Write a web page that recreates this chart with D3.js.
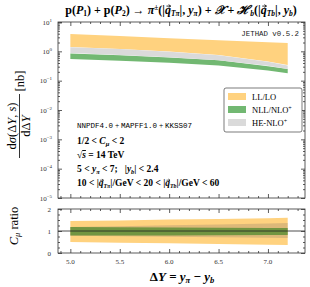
<!DOCTYPE html>
<html lang="en">
<head>
<meta charset="UTF-8">
<title>JETHAD pion + b-hadron</title>
<script src="https://d3js.org/d3.v7.min.js"></script>
<style>
  body { margin: 0; padding: 0; background: #fff; }
  svg { display: block; font-family: "Liberation Serif", "DejaVu Serif", serif; }
  .mono { font-family: "Liberation Mono", "DejaVu Sans Mono", monospace; }
  .axis path, .axis line { stroke: #333; stroke-width: 0.8; }
</style>
</head>
<body>
<svg width="310" height="287"></svg>
<script>
  // rapidity interval values
  const dY = [5.0, 5.5, 6.0, 6.5, 7.0, 7.2];

  // main panel, d sigma / d DeltaY in nb (band edges)
  const llLo = [1.40, 1.20, 0.98, 0.75, 0.45, 0.34];
  const llHi = [3.90, 3.30, 2.80, 2.40, 2.05, 1.92];
  const heLo = [0.87, 0.75, 0.63, 0.50, 0.32, 0.25];
  const heHi = [1.38, 1.19, 0.97, 0.74, 0.44, 0.33];
  const nllLo = [0.55, 0.48, 0.41, 0.33, 0.22, 0.18];
  const nllHi = [0.85, 0.73, 0.62, 0.50, 0.31, 0.25];

  // ratio panel (C_mu variation / central)
  const rLlLo = [0.50, 0.47, 0.44, 0.41, 0.38, 0.36];
  const rLlHi = [1.45, 1.48, 1.52, 1.55, 1.58, 1.60];
  const rHeLo = [0.78, 0.76, 0.74, 0.72, 0.69, 0.68];
  const rHeHi = [1.18, 1.22, 1.26, 1.30, 1.34, 1.36];
  const rNllLo = [0.79, 0.80, 0.80, 0.81, 0.82, 0.82];
  const rNllHi = [1.18, 1.17, 1.16, 1.15, 1.14, 1.14];

  const xTicks = [5.0, 5.5, 6.0, 6.5, 7.0];
  const yDecades = [1e-5, 1e-4, 1e-3, 1e-2, 1e-1, 1, 10];
  const ratioTicks = [0, 1, 2];

  const svg = d3.select("svg");

  const L = 58, R = 305;
  const x = d3.scaleLinear().domain([4.875, 7.375]).range([L, R]);
  const y = d3.scaleLog().domain([1e-5, 10]).range([198, 22]);
  const yr = d3.scaleLinear().domain([0, 2]).range([253, 209]);

  const band = (ys, lo, hi) => d3.area()
      .x((d, i) => x(dY[i]))
      .y0((d, i) => ys(lo[i]))
      .y1((d, i) => ys(hi[i]));

  // ---------- main panel ----------
  const main = svg.append("g");
  main.append("path").datum(dY).attr("d", band(y, llLo, llHi)).attr("fill", "#ffd27f");
  main.append("path").datum(dY).attr("d", band(y, nllLo, nllHi)).attr("fill", "#72b872");
  main.append("path").datum(dY).attr("d", band(y, heLo, heHi)).attr("fill", "#dadada");

  // ---------- ratio panel ----------
  const rat = svg.append("g");
  rat.append("path").datum(dY).attr("d", band(yr, rLlLo, rLlHi)).attr("fill", "#ffd27f");
  rat.append("path").datum(dY).attr("d", band(yr, rHeLo, rHeHi)).attr("fill", "#a89070").attr("fill-opacity", 0.4);
  rat.append("path").datum(dY).attr("d", band(yr, rNllLo, rNllHi)).attr("fill", "#4f8a2f").attr("fill-opacity", 0.75);
  rat.append("line").attr("x1", L).attr("x2", R).attr("y1", yr(1)).attr("y2", yr(1))
      .attr("stroke", "#222").attr("stroke-width", 0.8);

  // ---------- axes with inward ticks ----------
  const minorX = d3.range(4.9, 7.37, 0.1).filter(v => Math.abs(v * 2 - Math.round(v * 2)) > 1e-6);
  const minorY = [];
  yDecades.slice(0, -1).forEach(d => { for (let k = 2; k < 10; k++) minorY.push(d * k); });

  function frame(yScale, top, bottom, majorY, minorYv) {
    svg.append("rect").attr("x", L).attr("y", top).attr("width", R - L).attr("height", bottom - top)
        .attr("fill", "none").attr("stroke", "#333").attr("stroke-width", 0.8);
    const g = svg.append("g").attr("class", "axis");
    g.append("g").attr("transform", `translate(0,${bottom})`)
        .call(d3.axisBottom(x).tickValues(xTicks).tickSize(-4).tickFormat(""));
    g.append("g").attr("transform", `translate(0,${bottom})`)
        .call(d3.axisBottom(x).tickValues(minorX).tickSize(-2).tickFormat(""));
    g.append("g").attr("transform", `translate(0,${top})`)
        .call(d3.axisTop(x).tickValues(xTicks).tickSize(-4).tickFormat(""));
    g.append("g").attr("transform", `translate(0,${top})`)
        .call(d3.axisTop(x).tickValues(minorX).tickSize(-2).tickFormat(""));
    g.append("g").attr("transform", `translate(${L},0)`)
        .call(d3.axisLeft(yScale).tickValues(majorY).tickSize(-4).tickFormat(""));
    g.append("g").attr("transform", `translate(${L},0)`)
        .call(d3.axisLeft(yScale).tickValues(minorYv).tickSize(-2).tickFormat(""));
    g.append("g").attr("transform", `translate(${R},0)`)
        .call(d3.axisRight(yScale).tickValues(majorY).tickSize(-4).tickFormat(""));
    g.append("g").attr("transform", `translate(${R},0)`)
        .call(d3.axisRight(yScale).tickValues(minorYv).tickSize(-2).tickFormat(""));
    g.selectAll(".domain").remove();
  }
  frame(y, 22, 198, yDecades, minorY);
  frame(yr, 209, 253, ratioTicks, [0.25, 0.5, 0.75, 1.25, 1.5, 1.75]);

  // tick labels
  svg.append("g").selectAll("text").data(yDecades).join("text")
      .attr("x", 52).attr("y", d => y(d) + 2.5).attr("text-anchor", "end")
      .attr("font-size", 7).attr("fill", "#333")
      .html(d => `10<tspan dy="-3" font-size="5">${d3.format("d")(Math.round(Math.log10(d))).replace("-", "\u2212")}</tspan>`);
  svg.append("g").selectAll("text").data(ratioTicks).join("text")
      .attr("x", 51).attr("y", d => yr(d) + 2.5).attr("text-anchor", "end")
      .attr("font-size", 7).attr("fill", "#333").text(d => d);
  svg.append("g").selectAll("text").data(xTicks).join("text")
      .attr("x", d => x(d)).attr("y", 264).attr("text-anchor", "middle")
      .attr("font-size", 7).attr("fill", "#333").text(d => d3.format(".1f")(d));

  // vector q: the arrow is drawn afterwards as a path above the letter
  const qvec = (sub, fs) => `<tspan class="qv" font-style="italic">q</tspan><tspan font-size="${fs * 0.62}" dy="2" font-style="italic">${sub}</tspan><tspan dy="-2">`;

  // axis titles
  svg.append("text").attr("x", 182).attr("y", 281).attr("text-anchor", "middle")
      .attr("font-size", 13).attr("font-weight", "bold")
      .html(`\u0394<tspan font-style="italic">Y</tspan> = <tspan font-style="italic">y</tspan><tspan font-size="8.5" dy="2" font-style="italic">\u03c0</tspan><tspan dy="-2"> \u2212 </tspan><tspan font-style="italic">y</tspan><tspan font-size="8.5" dy="2" font-style="italic">b</tspan>`);

  svg.append("text").attr("transform", "translate(18,226) rotate(-90)").attr("text-anchor", "middle")
      .attr("font-size", 12.5)
      .html(`<tspan font-style="italic">C</tspan><tspan font-size="8.5" dy="2" font-style="italic">\u03bc</tspan><tspan dy="-2"> ratio</tspan>`);

  const yl = svg.append("g").attr("transform", "translate(0,126) rotate(-90)");
  yl.append("text").attr("x", 0).attr("y", 15.5).attr("text-anchor", "middle").attr("font-size", 12.5)
      .html(`d<tspan font-style="italic">\u03c3</tspan>(\u0394<tspan font-style="italic">Y</tspan>, <tspan font-style="italic">s</tspan>)`);
  yl.append("line").attr("x1", -32).attr("x2", 32).attr("y1", 19.5).attr("y2", 19.5).attr("stroke", "#000").attr("stroke-width", 0.8);
  yl.append("text").attr("x", 0).attr("y", 29.5).attr("text-anchor", "middle").attr("font-size", 12.5)
      .html(`d\u0394<tspan font-style="italic">Y</tspan>`);
  yl.append("text").attr("x", 45).attr("y", 23.5).attr("text-anchor", "middle").attr("font-size", 12.5).text("[nb]");

  // title
  svg.append("text").attr("x", 181).attr("y", 14).attr("text-anchor", "middle").attr("font-size", 12)
      .attr("font-weight", "bold")
      .html(`p(<tspan font-style="italic">P</tspan><tspan font-size="7.5" dy="2">1</tspan><tspan dy="-2">) + p(</tspan><tspan font-style="italic">P</tspan><tspan font-size="7.5" dy="2">2</tspan><tspan dy="-2">) \u2192 </tspan><tspan font-style="italic">\u03c0</tspan><tspan font-size="7.5" dy="-4">\u00b1</tspan><tspan dy="4">(|</tspan>${qvec("T\u03c0", 12)}|, </tspan><tspan font-style="italic">y</tspan><tspan font-size="7.5" dy="2" font-style="italic">\u03c0</tspan><tspan dy="-2">) + </tspan><tspan font-style="italic">\ud835\udcb3</tspan> + <tspan font-style="italic">\u210b</tspan><tspan font-size="7.5" dy="2" font-style="italic">b</tspan><tspan dy="-2">(|</tspan>${qvec("Tb", 12)}|, </tspan><tspan font-style="italic">y</tspan><tspan font-size="7.5" dy="2" font-style="italic">b</tspan><tspan dy="-2">)</tspan>`);

  svg.append("text").attr("class", "mono").attr("x", 299).attr("y", 36).attr("text-anchor", "end")
      .attr("font-size", 7.4).attr("fill", "#222").text("JETHAD v0.5.2");

  // annotations
  const ann = svg.append("g").attr("font-size", 9.5);
  ann.append("text").attr("x", 77).attr("y", 128).attr("font-size", 7.5)
      .html(`<tspan class="mono">NNPDF4.0</tspan> + <tspan class="mono">MAPFF1.0</tspan> + <tspan class="mono">KKSS07</tspan>`);
  ann.append("text").attr("x", 77).attr("y", 144).attr("font-weight", "bold")
      .html(`1/2 &lt; <tspan font-style="italic">C</tspan><tspan font-size="6.5" dy="2" font-style="italic">\u03bc</tspan><tspan dy="-2"> &lt; 2</tspan>`);
  ann.append("text").attr("x", 77).attr("y", 158).attr("font-weight", "bold")
      .html(`\u221a<tspan font-style="italic" text-decoration="overline">s</tspan> = 14 TeV`);
  ann.append("text").attr("x", 77).attr("y", 172).attr("font-weight", "bold")
      .html(`5 &lt; <tspan font-style="italic">y</tspan><tspan font-size="6.5" dy="2" font-style="italic">\u03c0</tspan><tspan dy="-2"> &lt; 7;</tspan><tspan dx="7">|</tspan><tspan font-style="italic">y</tspan><tspan font-size="6.5" dy="2" font-style="italic">b</tspan><tspan dy="-2">| &lt; 2.4</tspan>`);
  ann.append("text").attr("x", 77).attr("y", 186).attr("font-weight", "bold")
      .html(`10 &lt; |${qvec("T\u03c0", 9.5)}|/GeV &lt; 20 &lt; |</tspan>${qvec("Tb", 9.5)}|/GeV &lt; 60</tspan>`);

  // arrows over the q letters
  svg.selectAll("tspan.qv").each(function () {
    const b = this.getBBox();
    const fs = parseFloat(this.parentNode.getAttribute("font-size") || this.parentNode.parentNode.getAttribute("font-size"));
    const yA = b.y + b.height * 0.22;
    const x0 = b.x + b.width * 0.25, x1 = b.x + b.width * 0.95;
    const h = fs * 0.12;
    svg.append("path")
        .attr("d", `M${x0},${yA}H${x1}M${x1 - h * 1.4},${yA - h}L${x1},${yA}L${x1 - h * 1.4},${yA + h}`)
        .attr("fill", "none").attr("stroke", "#000").attr("stroke-width", fs > 10 ? 0.8 : 0.6);
  });

  // legend
  const legendItems = [
    { label: "LL/LO", sup: "", color: "#ffd27f" },
    { label: "NLL/NLO", sup: "+", color: "#72b872" },
    { label: "HE-NLO", sup: "+", color: "#dadada" }
  ];
  const lg = svg.append("g");
  lg.append("rect").attr("x", 224).attr("y", 88).attr("width", 78).attr("height", 44).attr("rx", 2)
      .attr("fill", "#fff").attr("stroke", "#444").attr("stroke-width", 0.7);
  lg.selectAll("rect.sw").data(legendItems).join("rect").attr("class", "sw")
      .attr("x", 228).attr("y", (d, i) => 93 + i * 13).attr("width", 18).attr("height", 7)
      .attr("fill", d => d.color);
  lg.selectAll("text").data(legendItems).join("text")
      .attr("x", 252).attr("y", (d, i) => 100 + i * 13).attr("font-size", 8.5)
      .html(d => `${d.label}<tspan font-size="6" dy="-3">${d.sup}</tspan>`);
</script>
</body>
</html>
